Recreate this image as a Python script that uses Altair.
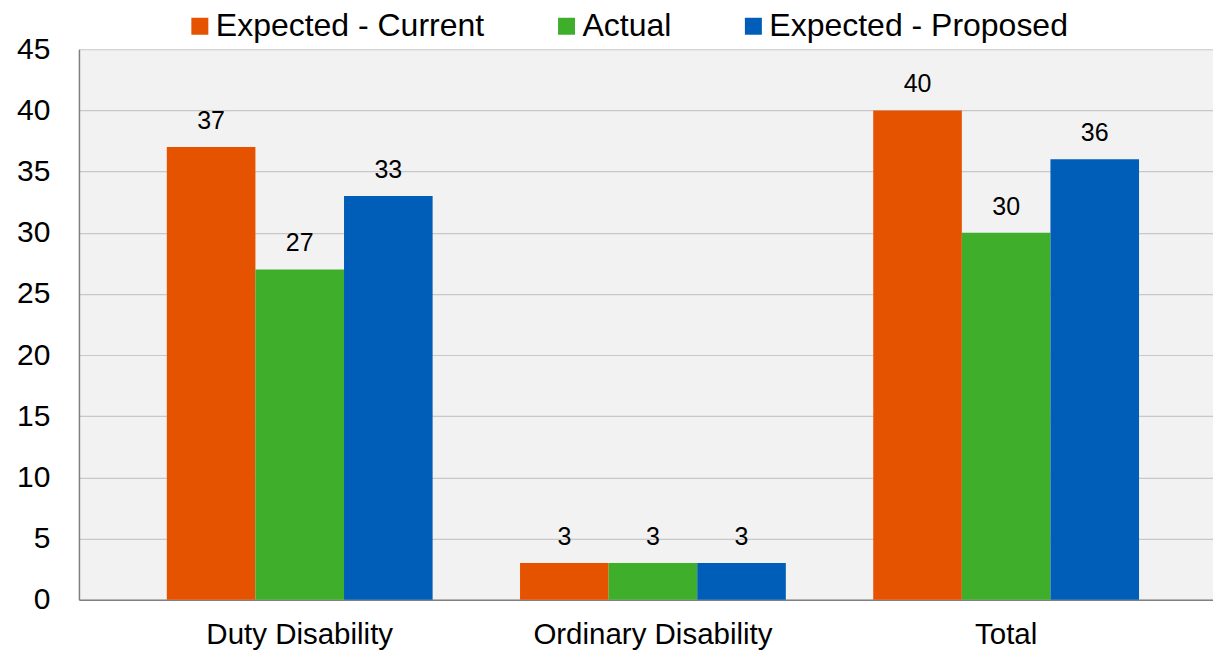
import altair as alt
import pandas as pd

categories = ["Duty Disability", "Ordinary Disability", "Total"]
series = ["Expected - Current", "Actual", "Expected - Proposed"]
expected_current = [37, 3, 40]
actual = [27, 3, 30]
expected_proposed = [33, 3, 36]
colors = ["#E55300", "#3EAE2B", "#005EB8"]
y_ticks = [0, 5, 10, 15, 20, 25, 30, 35, 40, 45]

rows = []
for s, vals in zip(series, [expected_current, actual, expected_proposed]):
    for c, v in zip(categories, vals):
        rows.append({"category": c, "series": s, "value": v})
df = pd.DataFrame(rows)

FONT = "Liberation Sans"

x_enc = alt.X(
    "category:N",
    sort=categories,
    title=None,
    scale=alt.Scale(paddingInner=0.2475, paddingOuter=0.2291, align=0.543),
    axis=alt.Axis(
        labelAngle=0,
        labelFontSize=29.5,
        labelFont=FONT,
        labelColor="#000000",
        labelPadding=21,
        labelLimit=0,
        ticks=False,
        domainColor="#808080",
        domainWidth=1.5,
        grid=False,
    ),
)
xoff_enc = alt.XOffset(
    "series:N", sort=series, scale=alt.Scale(paddingInner=0, paddingOuter=0)
)

bars = alt.Chart(df).mark_bar().encode(
    x=x_enc,
    xOffset=xoff_enc,
    y=alt.Y(
        "value:Q",
        title=None,
        scale=alt.Scale(domain=[0, 45], nice=False),
        axis=alt.Axis(
            values=y_ticks,
            labelFontSize=30,
            labelFont=FONT,
            labelColor="#000000",
            labelPadding=29,
            ticks=False,
            domainColor="#808080",
            domainWidth=1.5,
            grid=True,
            gridColor="#C8C8C8",
            gridWidth=1.2,
        ),
    ),
    color=alt.Color(
        "series:N",
        sort=series,
        scale=alt.Scale(domain=series, range=colors),
        legend=alt.Legend(
            title=None,
            orient="none",
            direction="horizontal",
            legendX=105,
            legendY=-39,
            symbolType="square",
            symbolSize=289,
            symbolStrokeWidth=0,
            labelFontSize=32,
            labelFont=FONT,
            labelColor="#000000",
            labelOffset=0,
            labelLimit=0,
            columnPadding=66,
            padding=0,
        ),
    ),
)

labels = alt.Chart(df).mark_text(
    baseline="alphabetic", dy=-18, fontSize=25, font=FONT, color="#000000"
).encode(
    x=alt.X("category:N", sort=categories),
    xOffset=alt.XOffset("series:N", sort=series),
    y=alt.Y("value:Q"),
    text=alt.Text("value:Q"),
)

chart = (
    alt.layer(bars, labels)
    .properties(
        width=1135,
        height=551,
        background="#FFFFFF",
        padding={"left": 8, "top": 2, "right": 0, "bottom": 0},
    )
    .configure_view(fill="#F2F2F2", strokeWidth=0)
)

chart.save("out.html", embed_options={"renderer": "svg", "actions": False})
